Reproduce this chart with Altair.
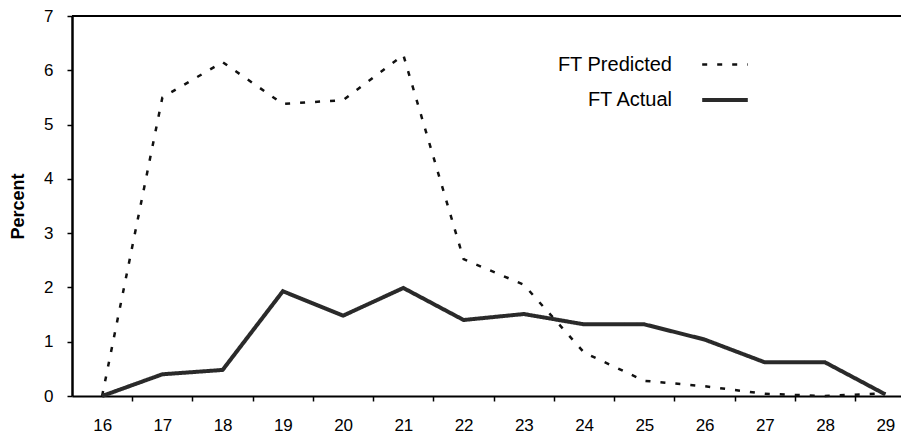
import altair as alt
import pandas as pd

ages = list(range(16, 30))
predicted = [0.0, 5.5, 6.15, 5.38, 5.45, 6.28, 2.52, 2.05, 0.8, 0.28, 0.18, 0.04, 0.0, 0.05]
actual = [0.0, 0.4, 0.48, 1.93, 1.48, 1.99, 1.4, 1.51, 1.32, 1.32, 1.04, 0.62, 0.62, 0.03]
series_names = ["FT Predicted", "FT Actual"]
y_ticks = list(range(0, 8))

rows = []
for a, p, q in zip(ages, predicted, actual):
    rows.append({"age": a, "pct": p, "series": series_names[0]})
    rows.append({"age": a, "pct": q, "series": series_names[1]})
df = pd.DataFrame(rows)

FONT = "Liberation Sans"
W, H = 829, 380

xscale = alt.Scale(domain=[15.5, 29.26], nice=False, zero=False)
yscale = alt.Scale(domain=[0, 7], nice=False)

lines = alt.Chart(df).mark_line(strokeCap="butt", strokeJoin="miter").encode(
    x=alt.X("age:Q", scale=xscale,
            axis=alt.Axis(values=ages, title=None, format="d", tickOffset=30,
                          labelOffset=-30,
                          tickSize=5, tickWidth=1.5, tickColor="#000",
                          domainColor="#000", domainWidth=2,
                          labelFont=FONT, labelFontSize=17, labelColor="#000",
                          labelPadding=16, grid=False)),
    y=alt.Y("pct:Q", scale=yscale,
            axis=alt.Axis(values=y_ticks, format="d", title="Percent", tickSize=5, tickWidth=1.5,
                          tickColor="#000", domainColor="#000", domainWidth=2.5,
                          labelFont=FONT, labelFontSize=17, labelColor="#000",
                          labelPadding=14, titleFont=FONT, titleFontSize=18,
                          titleFontWeight="bold", titleColor="#000",
                          titleX=-54, titleY=190, titleBaseline="middle",
                          grid=False)),
    color=alt.Color("series:N", scale=alt.Scale(domain=series_names, range=["#111111", "#2a2a2a"]),
                    legend=alt.Legend(title=None)),
    strokeDash=alt.StrokeDash("series:N", scale=alt.Scale(domain=series_names, range=[[5, 10], [1, 0]]),
                              legend=alt.Legend(title=None)),
    strokeWidth=alt.StrokeWidth("series:N", scale=alt.Scale(domain=series_names, range=[2.5, 4]),
                                legend=alt.Legend(title=None)),
)

border = alt.Chart(pd.DataFrame({"top": [7]})).mark_rule(color="#000", strokeWidth=2).encode(
    y=alt.Y("top:Q", scale=yscale)
)

chart = alt.layer(lines, border).properties(
    width=W, height=H,
    autosize=alt.AutoSizeParams(type="none"),
    padding={"left": 64, "top": 8, "right": 0, "bottom": 40},
).configure_view(stroke=None).configure_legend(
    orient="none", legendX=628, legendY=24, padding=0,
    symbolType="stroke", symbolSize=2080, symbolStrokeColor="#111",
    labelAlign="right", labelOffset={"expr": "-78"}, labelFont=FONT, labelFontSize=20,
    labelColor="#000", rowPadding=0, labelLimit=300,
)

chart.save("out.html", embed_options={"renderer": "svg", "actions": False})
